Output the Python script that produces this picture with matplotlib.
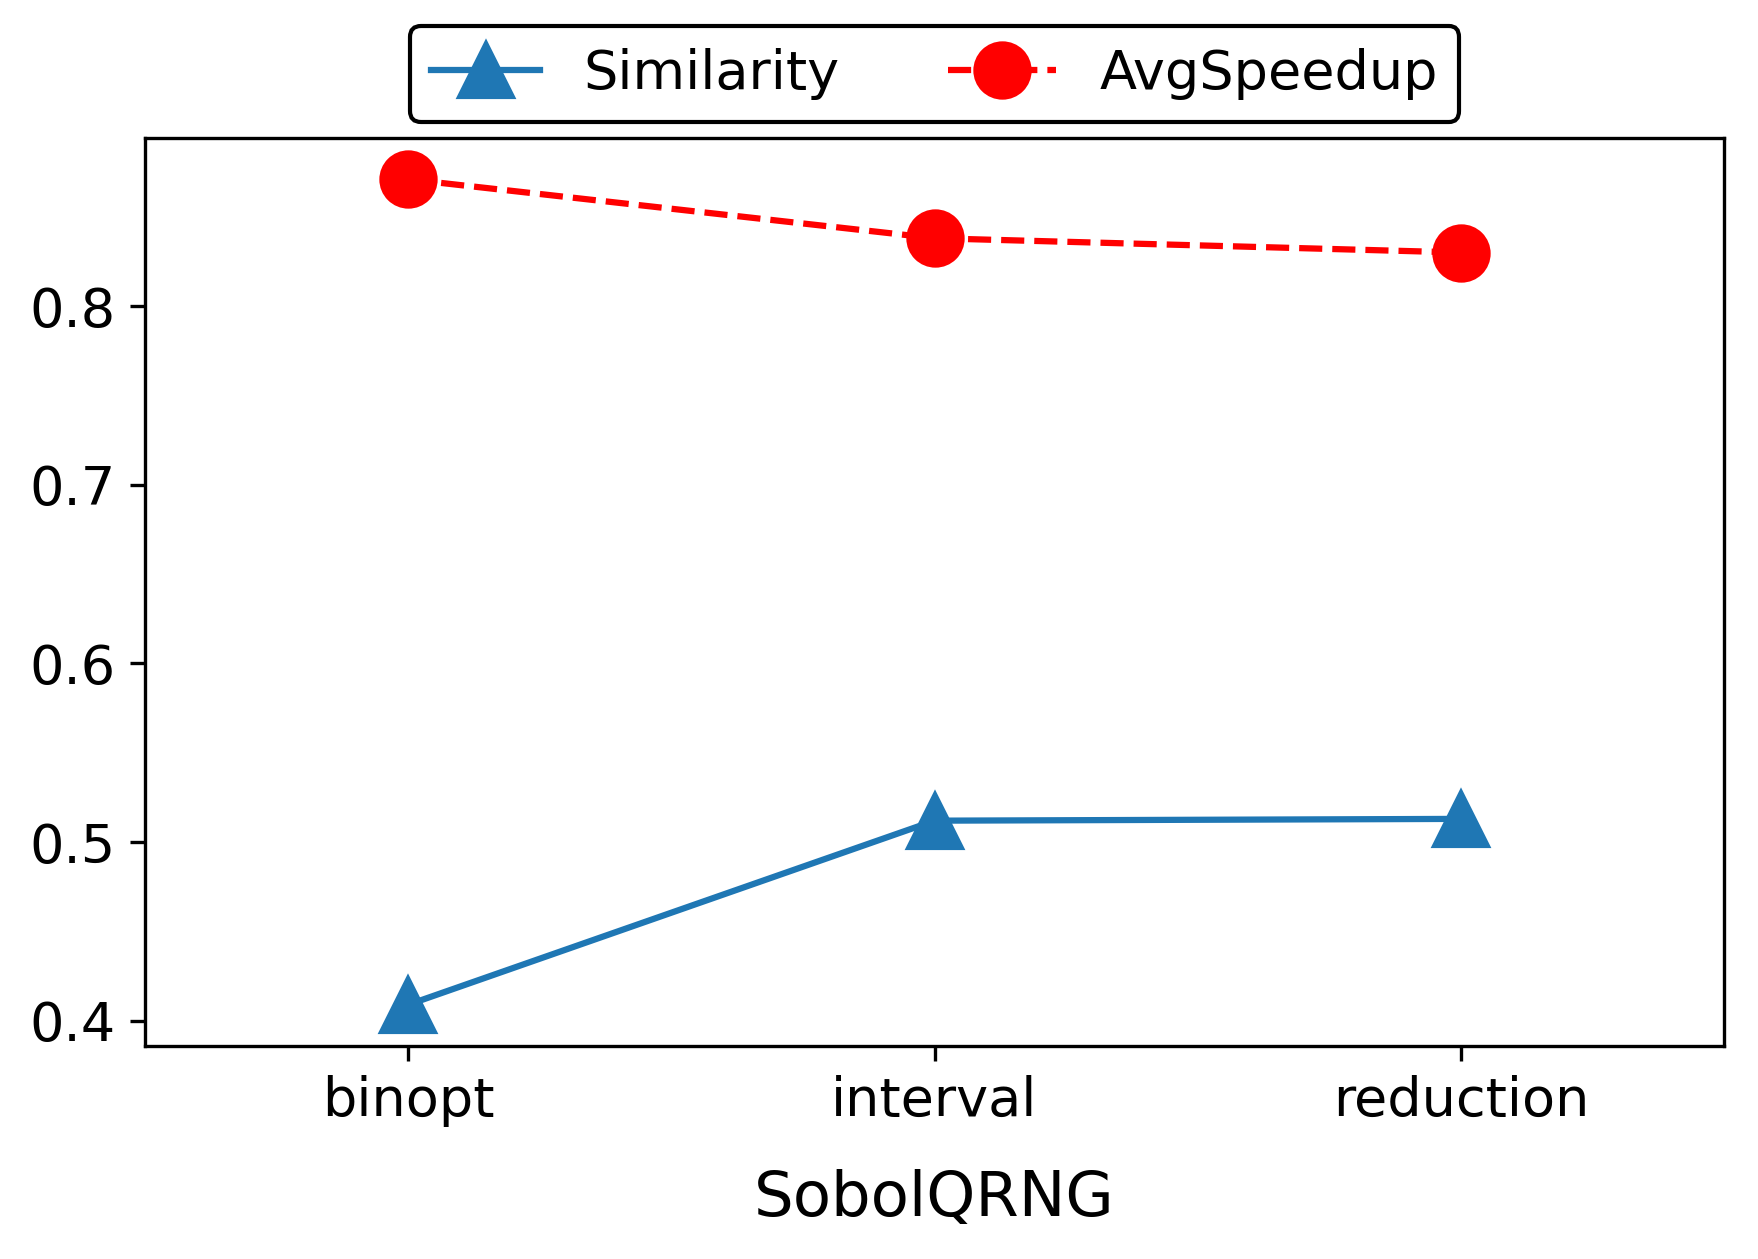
import numpy as np
import matplotlib
matplotlib.use('Agg')
import matplotlib.pyplot as plt

# values
benchmarks = ['binopt', 'interval', 'reduction']
similarity = [0.409, 0.512, 0.513]
avg_speedup = [0.871, 0.838, 0.830]

plt.rcParams['font.size'] = 13

fig = plt.figure(figsize=(5.86, 4.1967), dpi=300)
ax = fig.add_axes([0.0825, 0.1692, 0.8982, 0.7212])

x = np.arange(len(benchmarks))
ax.plot(x, similarity, '^-', color='#1f77b4', markersize=13, label='Similarity')
ax.plot(x, avg_speedup, 'o--', color='red', markersize=13, label='AvgSpeedup')

ax.set_xticks(x)
ax.set_xticklabels(benchmarks)
ax.set_xlim(-0.5, 2.5)
ax.set_yticks([0.4, 0.5, 0.6, 0.7, 0.8])
ax.set_xlabel('SobolQRNG', fontsize=15, labelpad=10)

leg = ax.legend(loc='lower center', bbox_to_anchor=(0.5, 1.0), ncol=2,
                borderaxespad=0.3, framealpha=1, edgecolor='black')

fig.savefig('out.png', dpi=300)
